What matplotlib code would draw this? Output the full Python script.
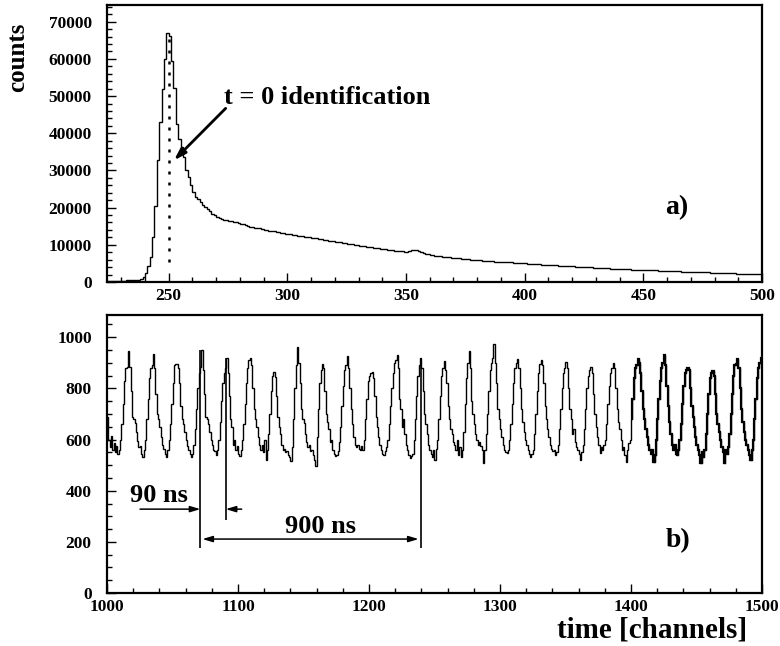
import numpy as np
import matplotlib
matplotlib.use("Agg")
import matplotlib.pyplot as plt
from matplotlib.ticker import MultipleLocator

plt.rcParams["font.family"] = ["Liberation Serif", "DejaVu Serif"]
plt.rcParams["font.weight"] = "bold"

# ---- panel a): time spectrum, one bin per channel, channels 224..499 ----
chan_a_start = 224
counts_a = [
    250, 280, 300, 300, 320, 350, 350, 380, 400, 420,
    450, 480, 520, 600, 800, 1400, 2300, 4300, 6600, 12000,
    20500, 32800, 43000, 52000, 60000, 67000, 66200, 59500, 52200, 42400,
    38500, 36300, 33600, 30000, 28200, 26000, 24200, 22900, 22200, 21500,
    20800, 20200, 19600, 19000, 18400, 17900, 17500, 17200, 17000, 16800,
    16600, 16500, 16300, 16200, 16000, 15900, 15700, 15500, 15300, 15100,
    14900, 14800, 14600, 14500, 14400, 14200, 14000, 13900, 13800, 13700,
    13600, 13500, 13400, 13300, 13100, 13000, 12900, 12850, 12700, 12650,
    12500, 12400, 12350, 12200, 12100, 12050, 11900, 11800, 11750, 11600,
    11450, 11350, 11250, 11100, 11000, 10950, 10800, 10700, 10650, 10500,
    10400, 10300, 10250, 10100, 10000, 9950, 9800, 9700, 9650, 9500,
    9400, 9350, 9250, 9100, 9050, 8950, 8850, 8800, 8700, 8600,
    8550, 8450, 8350, 8300, 8250, 8150, 8100, 8250, 8500, 8650,
    8600, 8350, 8050, 7800, 7600, 7450, 7300, 7200, 7100, 7000,
    6950, 6850, 6750, 6700, 6600, 6550, 6450, 6400, 6350, 6250,
    6200, 6150, 6050, 6000, 5950, 5900, 5850, 5800, 5750, 5700,
    5650, 5600, 5550, 5500, 5450, 5450, 5400, 5350, 5300, 5250,
    5250, 5200, 5150, 5100, 5100, 5050, 5000, 4950, 4900, 4900,
    4850, 4800, 4750, 4700, 4650, 4600, 4550, 4550, 4500, 4450,
    4400, 4350, 4350, 4300, 4250, 4200, 4200, 4150, 4100, 4050,
    4050, 4000, 3950, 3900, 3900, 3850, 3800, 3800, 3750, 3700,
    3700, 3650, 3600, 3600, 3550, 3500, 3500, 3450, 3450, 3400,
    3400, 3350, 3350, 3300, 3300, 3250, 3250, 3200, 3150, 3150,
    3100, 3100, 3050, 3050, 3000, 3000, 2950, 2950, 2900, 2900,
    2850, 2850, 2800, 2800, 2750, 2750, 2700, 2700, 2650, 2650,
    2600, 2600, 2550, 2550, 2500, 2500, 2450, 2450, 2400, 2400,
    2400, 2350, 2350, 2300, 2300, 2250, 2250, 2250, 2200, 2200,
    2200, 2150, 2150, 2100, 2100, 2100,
]
t0_channel = 250.3

# ---- panel b): zoom on the bunch structure, channels 1000..1499 ----
chan_b_start = 1000
counts_b = [
    690, 600, 570, 615, 560, 585, 550, 575, 545, 560,
    600, 660, 740, 830, 880, 885, 946, 885, 790, 690,
    680, 665, 630, 595, 570, 575, 545, 530, 560, 600,
    680, 760, 840, 880, 890, 936, 880, 780, 700, 680,
    650, 610, 580, 565, 545, 530, 560, 600, 660, 740,
    820, 890, 895, 897, 880, 820, 730, 680, 660, 630,
    600, 575, 560, 545, 530, 545, 580, 640, 720, 800,
    860, 885, 949, 870, 780, 690, 680, 660, 630, 600,
    580, 560, 555, 540, 560, 600, 670, 750, 820, 860,
    880, 917, 860, 770, 680, 650, 580, 600, 560, 575,
    545, 535, 560, 600, 660, 740, 820, 880, 910, 917,
    890, 800, 720, 680, 650, 610, 580, 560, 580, 550,
    600, 520, 560, 620, 700, 790, 850, 865, 845, 770,
    690, 650, 620, 580, 560, 565, 550, 555, 540, 530,
    515, 570, 680, 800, 890, 962, 900, 820, 720, 680,
    665, 620, 590, 570, 580, 555, 560, 540, 520, 495,
    610, 720, 820, 870, 897, 880, 790, 700, 670, 640,
    590, 600, 560, 545, 535, 540, 555, 590, 650, 730,
    810, 870, 890, 926, 880, 800, 720, 660, 610, 580,
    570, 580, 565, 560, 575, 560, 600, 680, 760, 830,
    850, 860, 865, 840, 770, 690, 650, 610, 580, 560,
    545, 540, 555, 570, 600, 660, 730, 800, 860, 900,
    910, 930, 880, 760, 720, 650, 680, 620, 580, 560,
    540, 527, 535, 545, 600, 680, 770, 850, 890, 917,
    880, 790, 700, 660, 620, 580, 560, 545, 530, 560,
    520, 565, 600, 680, 770, 850, 880, 907, 870, 820,
    730, 680, 640, 620, 590, 580, 560, 600, 540, 570,
    533, 560, 630, 740, 840, 900, 946, 880, 750, 700,
    660, 620, 600, 580, 590, 575, 560, 507, 560, 620,
    700, 790, 870, 900, 920, 975, 900, 820, 720, 680,
    640, 610, 580, 560, 550, 546, 560, 600, 660, 740,
    820, 880, 900, 914, 880, 800, 720, 670, 630, 600,
    580, 560, 545, 533, 545, 560, 620, 700, 790, 860,
    895, 910, 890, 820, 730, 680, 640, 610, 580, 565,
    555, 560, 540, 550, 580, 640, 720, 800, 860, 880,
    904, 880, 800, 720, 680, 620, 640, 590, 570, 560,
    545, 520, 550, 580, 640, 720, 800, 850, 870, 884,
    860, 780, 700, 650, 610, 580, 546, 570, 560, 580,
    600, 660, 740, 810, 860, 880, 901, 880, 800, 720,
    670, 640, 600, 560, 570, 540, 513, 560, 585, 600,
    680, 760, 840, 880, 890, 913, 900, 860, 790, 720,
    680, 640, 610, 580, 560, 545, 560, 513, 540, 600,
    680, 760, 830, 880, 900, 932, 890, 810, 730, 670,
    620, 580, 560, 580, 545, 540, 560, 600, 660, 740,
    810, 860, 870, 880, 870, 800, 730, 690, 650, 610,
    580, 560, 540, 507, 550, 530, 560, 620, 700, 780,
    840, 860, 868, 850, 780, 700, 660, 630, 600, 570,
    550, 507, 560, 545, 570, 620, 700, 780, 850, 890,
    895, 913, 880, 800, 720, 670, 630, 600, 580, 560,
    540, 520, 560, 600, 680, 760, 840, 880, 900, 917,
]
# channels from here on were recorded with a heavier trace
heavy_from = 1400

# period markers (channel, lower end, upper end)
marker_lines = [(1071.3, 175, 949), (1090.6, 285, 917), (1239.4, 175, 917)]
arrow_90_y = 328
arrow_900_y = 211

TICK_FS = 12.5

fig = plt.figure(figsize=(7.8, 6.46), dpi=100)
ax_a = fig.add_axes([0.1372, 0.5635, 0.8397, 0.4288])
ax_b = fig.add_axes([0.1372, 0.0820, 0.8397, 0.4304])


def style_axes(ax, major_x, minor_x, major_y, minor_y):
    for s in ax.spines.values():
        s.set_linewidth(1.6)
    ax.xaxis.set_major_locator(MultipleLocator(major_x))
    ax.xaxis.set_minor_locator(MultipleLocator(minor_x))
    ax.yaxis.set_major_locator(MultipleLocator(major_y))
    ax.yaxis.set_minor_locator(MultipleLocator(minor_y))
    ax.tick_params(which="both", direction="in", top=False, right=False,
                   width=1.0, labelsize=TICK_FS)
    ax.tick_params(which="major", length=6.5)
    ax.tick_params(which="minor", length=3.5)
    ax.tick_params(axis="y", pad=11)
    ax.tick_params(axis="x", pad=4)
    for lab in ax.get_xticklabels() + ax.get_yticklabels():
        lab.set_fontweight("bold")


# ---- panel a ----
edges_a = chan_a_start + np.arange(len(counts_a) + 1)
ax_a.stairs(counts_a, edges_a, baseline=None, color="black", lw=1.0)
ax_a.set_xlim(224, 500)
ax_a.set_ylim(0, 74500)
style_axes(ax_a, 50, 10, 10000, 2000)
ax_a.vlines(t0_channel, 5400, 66000, colors="black", linestyles=(0, (1.2, 3.2)), lw=1.8)
ax_a.annotate("", xy=(252.2, 32700), xytext=(274.0, 46700),
              arrowprops=dict(arrowstyle="-|>,head_length=0.7,head_width=0.22",
                              lw=2.0, color="black", shrinkA=0, shrinkB=0))
ax_a.text(273.2, 49700, "t = 0 identification", fontsize=19, fontweight="bold",
          ha="left", va="center")
ax_a.text(464.2, 19900, "a)", fontsize=20, fontweight="bold", ha="center", va="center")

# ---- panel b ----
edges_b = chan_b_start + np.arange(len(counts_b) + 1)
ax_b.stairs(counts_b, edges_b, baseline=None, color="black", lw=1.0)
k = heavy_from - chan_b_start
ax_b.stairs(counts_b[k:], edges_b[k:], baseline=None, color="black", lw=1.6)
ax_b.set_xlim(1000, 1500)
ax_b.set_ylim(0, 1087)
style_axes(ax_b, 100, 20, 200, 50)

for x, lo, hi in marker_lines:
    ax_b.vlines(x, lo, hi, colors="black", lw=1.2)

head = "-|>,head_length=0.6,head_width=0.18"
ax_b.annotate("", xy=(marker_lines[0][0], arrow_90_y), xytext=(1025.2, arrow_90_y),
              arrowprops=dict(arrowstyle=head, lw=1.1, color="black",
                              shrinkA=0, shrinkB=0))
ax_b.annotate("", xy=(marker_lines[1][0], arrow_90_y), xytext=(1102.8, arrow_90_y),
              arrowprops=dict(arrowstyle=head, lw=1.1, color="black",
                              shrinkA=0, shrinkB=0))
ax_b.annotate("", xy=(marker_lines[2][0] - 1.5, arrow_900_y),
              xytext=(marker_lines[0][0] + 1.5, arrow_900_y),
              arrowprops=dict(arrowstyle="<|-|>,head_length=0.6,head_width=0.18",
                              lw=1.1, color="black", shrinkA=0, shrinkB=0))
ax_b.text(1039.7, 383, "90 ns", fontsize=19, fontweight="bold", ha="center", va="center")
ax_b.text(1163.2, 260, "900 ns", fontsize=19, fontweight="bold", ha="center", va="center")
ax_b.text(1435.9, 203, "b)", fontsize=20, fontweight="bold", ha="center", va="center")

fig.text(0.023, 0.912, "counts", rotation=90, fontsize=18, fontweight="bold",
         ha="center", va="center")
fig.text(0.836, 0.025, "time [channels]", fontsize=21, fontweight="bold",
         ha="center", va="center")

fig.savefig("out.png", dpi=100)
